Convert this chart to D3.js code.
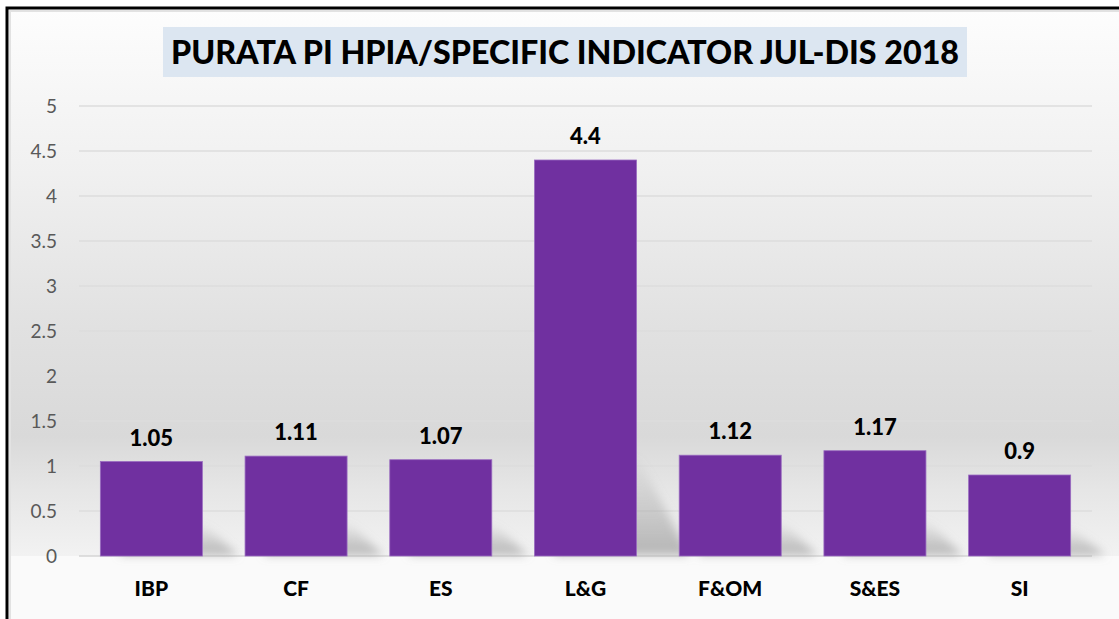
<!DOCTYPE html>
<html>
<head>
<meta charset="utf-8">
<script src="https://cdn.jsdelivr.net/npm/d3@7"></script>
<style>
  html, body { margin: 0; padding: 0; background: #ffffff; }
  svg { display: block; }
</style>
</head>
<body>
<div id="chart"></div>
<script>
(function () {
  "use strict";

  /***** Données *****/
  var categories = ["IBP", "CF", "ES", "L&G", "F&OM", "S&ES", "SI"];
  var values = [1.05, 1.11, 1.07, 4.4, 1.12, 1.17, 0.9];
  var valueLabels = ["1.05", "1.11", "1.07", "4.4", "1.12", "1.17", "0.9"];
  var yTicks = [0, 0.5, 1, 1.5, 2, 2.5, 3, 3.5, 4, 4.5, 5];
  var title = "PURATA PI HPIA/SPECIFIC INDICATOR JUL-DIS 2018";

  /***** Configuration *****/
  var width = 1119, height = 619;
  var plot = {left: 79, right: 1092, top: 106, bottom: 556};
  var font = "Lato, 'Open Sans', sans-serif";

  var svg = d3.select("#chart").append("svg")
    .attr("width", width)
    .attr("height", height);

  var defs = svg.append("defs");

  var bg = defs.append("linearGradient")
    .attr("id", "bg").attr("x1", 0).attr("y1", 0).attr("x2", 0).attr("y2", 1);
  bg.append("stop").attr("offset", "0%").attr("stop-color", "#fdfdfd");
  bg.append("stop").attr("offset", "30%").attr("stop-color", "#f0f0f0");
  bg.append("stop").attr("offset", "58%").attr("stop-color", "#e1e1e1");
  bg.append("stop").attr("offset", "78%").attr("stop-color", "#d9d9d9");
  bg.append("stop").attr("offset", "88%").attr("stop-color", "#e6e6e6");
  bg.append("stop").attr("offset", "100%").attr("stop-color", "#f2f2f2");

  var sg = defs.append("linearGradient")
    .attr("id", "shade").attr("x1", 0).attr("y1", 1).attr("x2", 0).attr("y2", 0);
  sg.append("stop").attr("offset", "0%").attr("stop-color", "#9a9a9a").attr("stop-opacity", 0.7);
  sg.append("stop").attr("offset", "100%").attr("stop-color", "#9a9a9a").attr("stop-opacity", 0);

  defs.append("filter").attr("id", "blur")
    .attr("x", "-50%").attr("y", "-50%").attr("width", "200%").attr("height", "200%")
    .append("feGaussianBlur").attr("stdDeviation", 5);

  // fond
  svg.append("rect")
    .attr("x", 9).attr("y", 10)
    .attr("width", width - 9).attr("height", plot.bottom - 10)
    .attr("fill", "url(#bg)");
  svg.append("rect")
    .attr("x", 9).attr("y", plot.bottom)
    .attr("width", width - 9).attr("height", height - plot.bottom)
    .attr("fill", "#fafafa");

  // cadre
  svg.append("path")
    .attr("d", "M7," + height + "V8H" + width)
    .attr("fill", "none").attr("stroke", "#000").attr("stroke-width", 3);
  svg.append("path")
    .attr("d", "M10," + height + "V11H" + width)
    .attr("fill", "none").attr("stroke", "#e2e2e2").attr("stroke-width", 2);

  /***** Échelles *****/
  var x = d3.scaleBand()
    .domain(categories)
    .range([plot.left, plot.right])
    .paddingInner(0.295)
    .paddingOuter(0.1475);

  var y = d3.scaleLinear()
    .domain([0, 5])
    .range([plot.bottom, plot.top]);

  // grille
  svg.append("g")
    .selectAll("line")
    .data(yTicks)
    .join("line")
    .attr("x1", plot.left).attr("x2", plot.right)
    .attr("y1", function (d) { return y(d); })
    .attr("y2", function (d) { return y(d); })
    .attr("stroke", function (d) { return d === 0 ? "#d4d4d4" : "#dcdcdc"; })
    .attr("stroke-width", 1.5);

  // axe y
  var yAxis = svg.append("g")
    .attr("transform", "translate(" + 60 + ",0)")
    .call(d3.axisLeft(y).tickValues(yTicks).tickSize(0).tickPadding(3)
      .tickFormat(function (d) { return String(d); }));
  yAxis.select(".domain").remove();
  yAxis.selectAll("text")
    .attr("fill", "#595959")
    .style("font-family", font)
    .style("font-size", "19px");

  var data = categories.map(function (c, i) {
    return {name: c, value: values[i], label: valueLabels[i]};
  });

  // ombres
  svg.append("g")
    .attr("filter", "url(#blur)")
    .selectAll("path")
    .data(data)
    .join("path")
    .attr("d", function (d) {
      var h = plot.bottom - y(d.value);
      var sh = Math.min(h * 0.33, 100);
      var dx = 28 + sh * 0.25;
      var x0 = x(d.name) + 20, x1 = x(d.name) + x.bandwidth();
      var b = plot.bottom - 1;
      return "M" + x0 + "," + b + "L" + (x1 + dx) + "," + b +
        "L" + x1 + "," + (b - sh) + "L" + x0 + "," + (b - sh) + "Z";
    })
    .attr("fill", "url(#shade)");

  // barres
  svg.append("g")
    .selectAll("rect")
    .data(data)
    .join("rect")
    .attr("x", function (d) { return x(d.name); })
    .attr("y", function (d) { return y(d.value); })
    .attr("width", x.bandwidth())
    .attr("height", function (d) { return plot.bottom - y(d.value); })
    .attr("fill", "#7030a0")
    .attr("stroke", "#9a6cc0")
    .attr("stroke-width", 0.8);

  // étiquettes de valeurs
  svg.append("g")
    .selectAll("text")
    .data(data)
    .join("text")
    .attr("x", function (d) { return x(d.name) + x.bandwidth() / 2; })
    .attr("y", function (d) { return y(d.value) - 16; })
    .attr("text-anchor", "middle")
    .attr("fill", "#000")
    .style("font-family", font)
    .style("font-weight", "900")
    .style("font-size", "22px")
    .text(function (d) { return d.label; });

  // axe x
  var xAxis = svg.append("g")
    .attr("transform", "translate(0," + plot.bottom + ")")
    .call(d3.axisBottom(x).tickSize(0).tickPadding(25));
  xAxis.select(".domain").remove();
  xAxis.selectAll("text")
    .attr("fill", "#000")
    .style("font-family", font)
    .style("font-weight", "900")
    .style("font-size", "21px");

  // titre
  svg.append("rect")
    .attr("x", 163).attr("y", 27)
    .attr("width", 804).attr("height", 50)
    .attr("fill", "#dce6f1");
  svg.append("text")
    .attr("x", 565).attr("y", 64)
    .attr("text-anchor", "middle")
    .attr("textLength", 788)
    .attr("lengthAdjust", "spacingAndGlyphs")
    .attr("fill", "#000")
    .style("font-family", font)
    .style("font-weight", "900")
    .style("font-size", "32px")
    .text(title);
})();
</script>
</body>
</html>
